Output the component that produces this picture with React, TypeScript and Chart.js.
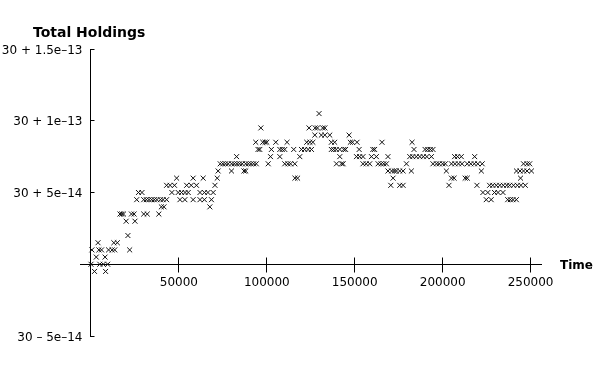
import { useEffect, useRef } from "react";
import { Chart, registerables } from "chart.js";

Chart.register(...registerables);

// Time values
const times = [
  0, 500, 2000, 3000, 4000, 4500, 5000, 6000, 7000, 8000, 8300, 9500, 10000, 12000, 13000, 13500, 15000,
  16500, 17500, 18500, 20000, 21000, 22000, 23000, 24500, 25000,
  26000, 27000, 29000, 30000, 30000, 31500, 32000, 33000, 34500, 36000, 37500, 38600, 39500, 40000,
  41000, 41500, 43000, 43000, 45000, 46000, 47500, 48700, 49600,
  50600, 51500, 53400, 53500, 54400, 55300, 57000, 58100, 58100, 60000, 62000, 62000, 63800, 64500,
  64500, 66500, 67600, 68500, 69500, 70500, 71800, 72300,
  73500, 75000, 76500, 78000, 79900, 80000, 81500, 82800, 83000, 84500, 86000, 87000, 88000, 88000,
  89500, 91000, 92500, 93700, 94000, 95000, 96000, 96600, 97700, 99000, 100000,
  100800, 102100, 102600, 105100, 107400, 107400, 108800, 110200, 110200, 111500, 112000, 113500,
  115300, 115900, 116000, 117500, 118750, 119700, 121500, 122700, 123500, 124000, 124500, 125400,
  126200, 127300, 127500, 128800, 129700, 131000, 131800, 133000, 133000, 135800, 136700, 136700,
  138000, 138600, 139500, 139600, 141500, 141500, 142500, 143400, 143800, 144800, 146800, 147500,
  148700, 151000, 151300, 152500, 152800, 154700, 154700, 156500, 158500, 159500, 160300, 161300,
  162300, 163300, 165000, 165500, 166500, 168000, 168900, 168900, 170500, 171000, 171800, 172500,
  173700,
  175600, 175600, 177500, 177500, 179400, 181300, 182200, 182600, 183000, 183700, 185000, 187000,
  189000, 190000, 191000, 191500, 193000, 193600, 194500, 194500, 196500, 198000, 200000, 201500,
  202100, 203600, 205000, 205000, 206500, 206800, 207000, 208500, 209000, 210600, 211000, 212800,
  214000, 214000, 216000, 218000, 218200, 219500, 220000, 222000, 222500, 222900, 224800, 225700,
  226700, 227600, 228500, 229500, 230500, 231500, 232500, 234300, 234500, 236500, 237000, 238100,
  238500, 240000, 240300, 241900, 242000, 242500, 244000, 244300, 244500, 246000, 246000, 247000,
  248000, 248000, 249500, 250500,
];

// Total Holdings minus 30, in units of 1e-15
const holdingsOffset = [
  0, 10, -5, 5, 15, 10, 0, 10, 0, 5, -5, 0, 10, 10, 15, 10, 15,
  35, 35, 35, 30, 20, 10, 35, 35, 30,
  45, 50, 50, 35, 45, 45, 35, 45, 45, 45, 45, 35, 45, 40,
  45, 40, 45, 55, 55, 50, 55, 60, 50,
  45, 50, 45, 50, 55, 50, 55, 45, 60, 55, 45, 50, 60, 45,
  50, 50, 40, 45, 50, 55, 60, 65,
  70, 70, 70, 70, 65, 70, 70, 75, 70, 70, 70, 65, 65, 70,
  70, 70, 70, 85, 70, 80, 80, 95, 85, 85, 85,
  70, 75, 80, 85, 75, 80, 80, 80, 70, 85, 70, 70,
  80, 70, 60, 60, 75, 80, 80, 85, 80, 95, 85, 80,
  85, 90, 95, 95, 105, 90, 95, 90, 95, 90, 85, 80,
  80, 85, 80, 70, 80, 75, 70, 70, 80, 80, 90, 85,
  85, 75, 85, 80, 75, 75, 70, 70, 70, 75, 80, 80,
  75, 70, 70, 85, 70, 70, 75, 65, 55, 65, 60, 65,
  65,
  65, 55, 65, 55, 70, 75, 65, 85, 75, 80, 75, 75,
  75, 80, 75, 80, 80, 75, 80, 70, 70, 70, 70, 70,
  65, 55, 70, 60, 60, 75, 70, 75, 70, 75, 70, 60,
  60, 70, 70, 70, 75, 55, 70, 65, 70, 50, 45, 50,
  55, 45, 55, 50, 55, 50, 55, 50, 55, 55, 45, 55,
  45, 45, 55, 45, 65, 55, 65, 60, 55, 70, 65, 55,
  70, 65, 70, 65,
];

const xTicks = [50000, 100000, 150000, 200000, 250000];
const xTickLabels = ["50000", "100000", "150000", "200000", "250000"];
const yTicks = [-50, 50, 100, 150];
const yTickLabels = ["30 \u2013 5e\u201314", "30 + 5e\u201314", "30 + 1e\u201313", "30 + 1.5e\u201313"];
const yTitle = "Total Holdings";
const xTitle = "Time";

const FONT = '"DejaVu Sans", Verdana, sans-serif';

const axesPlugin = {
  id: "customAxes",
  beforeDatasetsDraw(chart: any) {
    const { ctx, chartArea } = chart;
    const xs = chart.scales.x;
    const ys = chart.scales.y;
    const x0 = Math.floor(xs.getPixelForValue(0)) + 0.5;
    const y0 = Math.floor(ys.getPixelForValue(0)) + 0.5;
    ctx.save();
    ctx.strokeStyle = "#000";
    ctx.lineWidth = 1;
    ctx.beginPath();
    // y axis
    ctx.moveTo(x0, Math.floor(chartArea.top));
    ctx.lineTo(x0, Math.floor(chartArea.bottom) + 1);
    // x axis
    ctx.moveTo(chartArea.left, y0);
    ctx.lineTo(chartArea.right, y0);
    // y ticks
    yTicks.forEach((v) => {
      const py = Math.floor(ys.getPixelForValue(v)) + 0.5;
      ctx.moveTo(x0, py);
      ctx.lineTo(x0 + 4, py);
    });
    // x ticks
    xTicks.forEach((v) => {
      const px = Math.floor(xs.getPixelForValue(v)) + 0.5;
      ctx.moveTo(px, y0 - 7);
      ctx.lineTo(px, y0 + 8);
    });
    ctx.stroke();

    ctx.fillStyle = "#000";
    ctx.font = `12px ${FONT}`;
    ctx.textAlign = "right";
    ctx.textBaseline = "alphabetic";
    yTicks.forEach((v, i) => {
      const py = ys.getPixelForValue(v);
      ctx.fillText(yTickLabels[i], 82.5, py + 4.5);
    });
    ctx.textAlign = "center";
    xTicks.forEach((v, i) => {
      const px = xs.getPixelForValue(v);
      ctx.fillText(xTickLabels[i], px, y0 + 21.5);
    });

    ctx.textAlign = "left";
    ctx.font = `bold 14px ${FONT}`;
    ctx.fillText(yTitle, 33, 37);
    ctx.font = `bold 12px ${FONT}`;
    ctx.fillText(xTitle, 560, 268.5);
    ctx.restore();
  },
};

export default function App() {
  const canvasRef = useRef<HTMLCanvasElement | null>(null);

  useEffect(() => {
    if (!canvasRef.current) return;
    const points = times.map((t, i) => ({ x: t, y: holdingsOffset[i] }));
    const chart = new Chart(canvasRef.current, {
      type: "scatter",
      data: {
        datasets: [
          {
            label: yTitle,
            data: points,
            pointStyle: "crossRot",
            radius: 3.5,
            borderColor: "#111",
            backgroundColor: "#111",
            borderWidth: 1,
          },
        ],
      },
      options: {
        animation: false,
        responsive: false,
        devicePixelRatio: 1,
        layout: { padding: { left: 80, right: 58, top: 49, bottom: 34 } },
        scales: {
          x: { type: "linear", min: -6250, max: 256500, display: false },
          y: { type: "linear", min: -50, max: 150, display: false },
        },
        plugins: {
          legend: { display: false },
          tooltip: { enabled: false },
        },
      },
      plugins: [axesPlugin],
    });
    return () => chart.destroy();
  }, []);

  return (
    <div style={{ position: "absolute", left: 0, top: 0, width: 600, height: 370, background: "#fff" }}>
      <canvas ref={canvasRef} width={600} height={370} style={{ display: "block" }} />
    </div>
  );
}
